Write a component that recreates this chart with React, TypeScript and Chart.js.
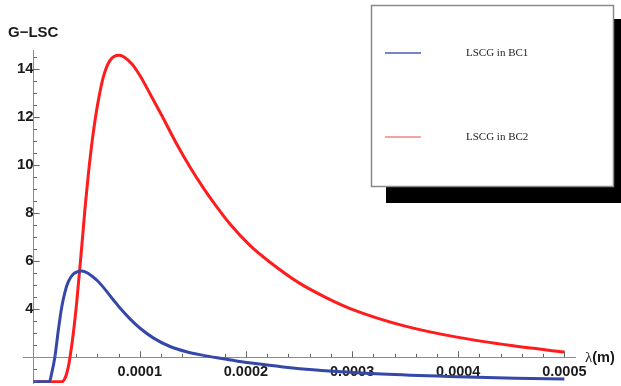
import React, { useEffect, useRef } from 'react';
import { Chart, registerables } from 'chart.js';

Chart.register(...registerables);

// wavelength (m) and LSCG values
const lambdaBC1 = [0, 0.1e-4, 0.148e-4, 0.17e-4, 0.2e-4, 0.233e-4, 0.265e-4, 0.296e-4, 0.327e-4, 0.374e-4, 0.453e-4, 0.594e-4, 0.75e-4, 0.814e-4, 0.908e-4, 1.0e-4, 1.13e-4, 1.285e-4, 1.44e-4, 1.6e-4, 1.756e-4, 1.91e-4, 2.07e-4, 2.35e-4, 2.66e-4, 3.0e-4, 3.28e-4, 3.91e-4, 4.54e-4, 5.0e-4];
const lscgBC1 = [0.98, 0.98, 0.98, 1.33, 2.0, 3.14, 4.1, 4.73, 5.15, 5.47, 5.6, 5.22, 4.4, 4.05, 3.6, 3.22, 2.8, 2.45, 2.23, 2.08, 1.96, 1.85, 1.75, 1.6, 1.47, 1.37, 1.3, 1.2, 1.13, 1.1];

const lambdaBC2 = [0, 0.1e-4, 0.2e-4, 0.264e-4, 0.296e-4, 0.327e-4, 0.343e-4, 0.374e-4, 0.406e-4, 0.437e-4, 0.463e-4, 0.484e-4, 0.515e-4, 0.547e-4, 0.578e-4, 0.61e-4, 0.657e-4, 0.72e-4, 0.807e-4, 0.924e-4, 1.0e-4, 1.1e-4, 1.21e-4, 1.34e-4, 1.47e-4, 1.6e-4, 1.72e-4, 1.85e-4, 2.04e-4, 2.23e-4, 2.5e-4, 2.75e-4, 3.0e-4, 3.5e-4, 4.0e-4, 4.5e-4, 5.0e-4];
const lscgBC2 = [0.98, 0.98, 0.98, 0.98, 1.13, 1.6, 2.0, 3.0, 4.3, 5.8, 7.1, 8.2, 9.6, 10.85, 11.85, 12.71, 13.68, 14.37, 14.58, 14.23, 13.75, 12.95, 12.05, 10.95, 9.95, 9.05, 8.3, 7.55, 6.65, 5.95, 5.1, 4.5, 4.0, 3.3, 2.83, 2.49, 2.22];

const seriesLabels = ['LSCG in BC1', 'LSCG in BC2'];
const xTickValues = [0.0001, 0.0002, 0.0003, 0.0004, 0.0005];
const yTickValues = [4, 6, 8, 10, 12, 14];
const yAxisTitle = 'G\u2212LSC';
const xAxisSymbol = '\u03bb';
const xAxisUnit = '(m)';

const BLUE = '#3548a8';
const RED = '#ff1c1c';
const BLUE_LEGEND = '#7584c8';
const RED_LEGEND = '#f5a4a4';
const AXIS = '#8c8c8c';
const SANS = '"Liberation Sans", Arial, sans-serif';
const SERIF = '"Liberation Serif", "Times New Roman", serif';

const decor = {
  id: 'decor',
  afterDraw(chart: any) {
    const { ctx, scales } = chart;
    const xs = scales.x;
    const ys = scales.y;
    const axisY = ys.getPixelForValue(2);
    const axisX = xs.getPixelForValue(0);
    ctx.save();
    ctx.strokeStyle = '#666';
    ctx.lineWidth = 1;
    // x ticks (pointing up, into the plot)
    for (let k = 1; k <= 25; k++) {
      const v = k * 2e-5;
      const px = Math.round(xs.getPixelForValue(v)) + 0.5;
      const major = k % 5 === 0;
      ctx.beginPath();
      ctx.moveTo(px, axisY);
      ctx.lineTo(px, axisY - (major ? 6 : 3.5));
      ctx.stroke();
    }
    // y ticks (pointing right)
    for (let k = 2; k <= 29; k++) {
      const v = k * 0.5;
      if (v === 2) continue;
      const py = Math.round(ys.getPixelForValue(v)) + 0.5;
      const major = k % 4 === 0;
      ctx.beginPath();
      ctx.moveTo(axisX, py);
      ctx.lineTo(axisX + (major ? 6 : 3.5), py);
      ctx.stroke();
    }
    // axis titles
    ctx.fillStyle = '#1a1a1a';
    ctx.textBaseline = 'middle';
    ctx.textAlign = 'left';
    ctx.font = `bold 15px ${SANS}`;
    ctx.fillText(yAxisTitle, 8, 33);
    ctx.font = `15px ${SERIF}`;
    ctx.fillText(xAxisSymbol, 585, 358);
    const w = ctx.measureText(xAxisSymbol).width;
    ctx.font = `bold 14.5px ${SANS}`;
    ctx.fillText(xAxisUnit, 585 + w, 358);

    // legend box with shadow
    ctx.fillStyle = '#000';
    ctx.fillRect(386, 19, 240, 184);
    ctx.fillStyle = '#fff';
    ctx.fillRect(371, 5, 243, 182);
    ctx.strokeStyle = '#8a8a8a';
    ctx.lineWidth = 1.5;
    ctx.strokeRect(371.5, 5.5, 242, 181);
    const legendColors = [BLUE_LEGEND, RED_LEGEND];
    const rows = [53, 137];
    chart.data.datasets.forEach((ds: any, i: number) => {
      ctx.strokeStyle = legendColors[i];
      ctx.lineWidth = 2;
      ctx.beginPath();
      ctx.moveTo(385, rows[i]);
      ctx.lineTo(421, rows[i]);
      ctx.stroke();
      ctx.fillStyle = '#222';
      ctx.font = `11px ${SERIF}`;
      ctx.textAlign = 'left';
      ctx.textBaseline = 'middle';
      ctx.fillText(ds.label, 466, rows[i]);
    });
    ctx.restore();
  },
};

export default function App() {
  const ref = useRef<HTMLCanvasElement>(null);
  useEffect(() => {
    const canvas = ref.current;
    if (!canvas) return;
    const chart = new Chart(canvas, {
      type: 'line',
      data: {
        datasets: [
          {
            label: seriesLabels[0],
            data: lambdaBC1.map((x, i) => ({ x, y: lscgBC1[i] })),
            borderColor: BLUE,
            borderWidth: 3,
            pointRadius: 0,
            cubicInterpolationMode: 'monotone',
            fill: false,
          },
          {
            label: seriesLabels[1],
            data: lambdaBC2.map((x, i) => ({ x, y: lscgBC2[i] })),
            borderColor: RED,
            borderWidth: 3,
            pointRadius: 0,
            cubicInterpolationMode: 'monotone',
            fill: false,
          },
        ],
      },
      options: {
        responsive: false,
        animation: false,
        layout: { padding: { left: 23, right: 46, top: 50, bottom: 3 } },
        plugins: { legend: { display: false }, tooltip: { enabled: false } },
        scales: {
          x: {
            type: 'linear',
            position: { y: 2 } as any,
            min: -0.1e-4,
            max: 5.1e-4,
            grid: { display: false, drawTicks: false },
            border: { display: true, color: AXIS, width: 1 },
            afterBuildTicks: (s: any) => {
              s.ticks = xTickValues.map((v) => ({ value: v }));
            },
            afterFit: (s: any) => {
              s.paddingLeft = 0;
              s.paddingRight = 0;
            },
            ticks: {
              padding: 6,
              maxRotation: 0,
              autoSkip: false,
              color: '#1a1a1a',
              font: { family: SANS, size: 14.5, weight: 'bold' },
              callback: (v: any) => Number(v).toFixed(4),
            },
          },
          y: {
            type: 'linear',
            position: { x: 0 } as any,
            min: 0.93,
            max: 14.8,
            grid: { display: false, drawTicks: false },
            border: { display: true, color: AXIS, width: 1 },
            afterBuildTicks: (s: any) => {
              s.ticks = yTickValues.map((v) => ({ value: v }));
            },
            afterFit: (s: any) => {
              s.paddingTop = 0;
              s.paddingBottom = 0;
            },
            ticks: {
              padding: 5,
              autoSkip: false,
              color: '#1a1a1a',
              font: { family: SANS, size: 15, weight: 'bold' },
              callback: (v: any) => String(v),
            },
          },
        },
      },
      plugins: [decor],
    });
    return () => chart.destroy();
  }, []);
  return (
    <div style={{ position: 'absolute', left: 0, top: 0, width: 621, height: 386, background: '#fff' }}>
      <canvas ref={ref} width={621} height={386} style={{ display: 'block' }} />
    </div>
  );
}
